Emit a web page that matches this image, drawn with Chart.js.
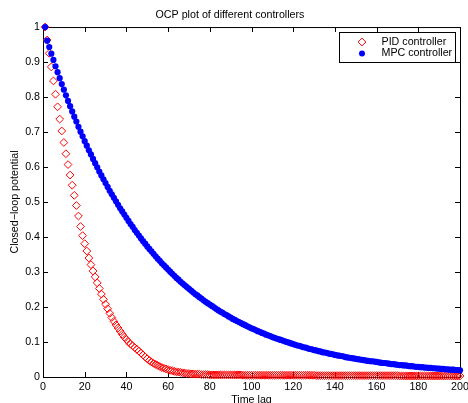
<!DOCTYPE html>
<html>
<head>
<meta charset="utf-8">
<script src="https://cdn.jsdelivr.net/npm/chart.js@4.4.1/dist/chart.umd.min.js"></script>
<style>
  html, body { margin: 0; padding: 0; background: #fff; }
  #wrap { width: 468px; height: 403px; }
</style>
</head>
<body>
<div id="wrap"><canvas id="myChart" width="468" height="403"></canvas></div>
<script>
// time lags 1..200
const lags = [];
for (let i = 1; i <= 200; i++) lags.push(i);

// PID controller
const pidValues = [
  1.000, 0.963, 0.925, 0.886, 0.846, 0.808, 0.772, 0.737, 0.703, 0.670,
  0.638, 0.607, 0.577, 0.548, 0.519, 0.490, 0.460, 0.430, 0.404, 0.381,
  0.360, 0.340, 0.321, 0.303, 0.286, 0.269, 0.253, 0.237, 0.222, 0.208,
  0.195, 0.182, 0.170, 0.159, 0.149, 0.140, 0.131, 0.122, 0.114, 0.107,
  0.100, 0.094, 0.089, 0.084, 0.079, 0.074, 0.068, 0.063, 0.057, 0.052,
  0.047, 0.043, 0.039, 0.036, 0.033, 0.030, 0.027, 0.025, 0.023, 0.021,
  0.019, 0.018, 0.016, 0.015, 0.014, 0.013, 0.012, 0.011, 0.010, 0.010,
  0.009, 0.009, 0.008, 0.008, 0.008, 0.007, 0.007, 0.007, 0.007, 0.006,
  0.006, 0.006, 0.006, 0.006, 0.006, 0.006, 0.006, 0.006, 0.006, 0.006,
  0.006, 0.006, 0.006, 0.006, 0.006, 0.005, 0.005, 0.005, 0.005, 0.005,
  0.005, 0.005, 0.005, 0.005, 0.005, 0.005, 0.005, 0.005, 0.005, 0.005,
  0.005, 0.005, 0.005, 0.005, 0.005, 0.005, 0.005, 0.005, 0.005, 0.005,
  0.005, 0.005, 0.005, 0.005, 0.005, 0.005, 0.005, 0.005, 0.005, 0.005,
  0.004, 0.004, 0.004, 0.004, 0.004, 0.004, 0.004, 0.004, 0.004, 0.004,
  0.004, 0.004, 0.004, 0.004, 0.004, 0.004, 0.004, 0.004, 0.004, 0.004,
  0.004, 0.004, 0.004, 0.004, 0.004, 0.004, 0.004, 0.004, 0.004, 0.004,
  0.004, 0.004, 0.004, 0.004, 0.004, 0.004, 0.004, 0.004, 0.004, 0.004,
  0.003, 0.003, 0.003, 0.003, 0.003, 0.003, 0.003, 0.003, 0.003, 0.003,
  0.003, 0.003, 0.003, 0.003, 0.003, 0.003, 0.003, 0.003, 0.003, 0.003,
  0.003, 0.003, 0.003, 0.003, 0.003, 0.003, 0.003, 0.003, 0.003, 0.003
];

// MPC controller
const mpcValues = [
  1.000, 0.961, 0.943, 0.924, 0.906, 0.888, 0.871, 0.854, 0.837, 0.821,
  0.805, 0.789, 0.774, 0.759, 0.744, 0.730, 0.715, 0.701, 0.688, 0.674,
  0.661, 0.648, 0.636, 0.623, 0.611, 0.599, 0.587, 0.576, 0.565, 0.554,
  0.543, 0.532, 0.522, 0.512, 0.502, 0.492, 0.482, 0.473, 0.464, 0.455,
  0.446, 0.437, 0.429, 0.420, 0.412, 0.404, 0.396, 0.388, 0.381, 0.373,
  0.366, 0.359, 0.352, 0.345, 0.338, 0.332, 0.325, 0.319, 0.313, 0.307,
  0.301, 0.295, 0.289, 0.283, 0.278, 0.272, 0.267, 0.262, 0.257, 0.252,
  0.247, 0.242, 0.237, 0.233, 0.228, 0.224, 0.219, 0.215, 0.211, 0.207,
  0.203, 0.199, 0.195, 0.191, 0.187, 0.184, 0.180, 0.177, 0.173, 0.170,
  0.166, 0.163, 0.160, 0.157, 0.154, 0.151, 0.148, 0.145, 0.142, 0.139,
  0.137, 0.134, 0.131, 0.129, 0.126, 0.124, 0.121, 0.119, 0.117, 0.114,
  0.112, 0.110, 0.108, 0.106, 0.104, 0.102, 0.100, 0.098, 0.096, 0.094,
  0.092, 0.090, 0.089, 0.087, 0.085, 0.084, 0.082, 0.080, 0.079, 0.077,
  0.076, 0.074, 0.073, 0.071, 0.070, 0.069, 0.067, 0.066, 0.065, 0.063,
  0.062, 0.061, 0.060, 0.059, 0.057, 0.056, 0.055, 0.054, 0.053, 0.052,
  0.051, 0.050, 0.049, 0.048, 0.047, 0.046, 0.045, 0.045, 0.044, 0.043,
  0.042, 0.041, 0.040, 0.040, 0.039, 0.038, 0.037, 0.037, 0.036, 0.035,
  0.034, 0.034, 0.033, 0.033, 0.032, 0.031, 0.031, 0.030, 0.029, 0.029,
  0.028, 0.028, 0.027, 0.027, 0.026, 0.026, 0.025, 0.025, 0.024, 0.024,
  0.023, 0.023, 0.022, 0.022, 0.021, 0.021, 0.021, 0.020, 0.020, 0.019
];

const seriesNames = ["PID controller", "MPC controller"];
const xTicks = [0, 20, 40, 60, 80, 100, 120, 140, 160, 180, 200];
const yTicks = [0, 0.1, 0.2, 0.3, 0.4, 0.5, 0.6, 0.7, 0.8, 0.9, 1];

const FONT = '"Liberation Sans", Arial, Helvetica, sans-serif';
const FS = 10.7;
Chart.defaults.font.family = FONT;
Chart.defaults.font.size = FS;
Chart.defaults.color = "#000";

// box round the axes with inward ticks (matlab style)
const boxTicks = {
  id: "boxTicks",
  beforeDatasetsDraw(chart) {
    const { ctx, chartArea: a, scales } = chart;
    const tl = 5;
    ctx.save();
    ctx.strokeStyle = "#000";
    ctx.lineWidth = 1;
    ctx.beginPath();
    xTicks.forEach((v) => {
      const px = Math.round(scales.x.getPixelForValue(v)) + 0.5;
      ctx.moveTo(px, a.bottom); ctx.lineTo(px, a.bottom - tl);
      ctx.moveTo(px, a.top); ctx.lineTo(px, a.top + tl);
    });
    yTicks.forEach((v) => {
      const py = Math.round(scales.y.getPixelForValue(v)) + 0.5;
      ctx.moveTo(a.left, py); ctx.lineTo(a.left + tl, py);
      ctx.moveTo(a.right, py); ctx.lineTo(a.right - tl, py);
    });
    ctx.stroke();
    ctx.strokeRect(a.left + 0.5, a.top + 0.5, a.right - a.left, a.bottom - a.top);
    ctx.restore();
  },
};

// legend box in the top right corner
const boxLegend = {
  id: "boxLegend",
  afterDraw(chart) {
    const ctx = chart.ctx;
    const L = 339.5, T = 32.5, W = 116, H = 30;
    ctx.save();
    ctx.fillStyle = "#fff";
    ctx.fillRect(L, T, W, H);
    ctx.strokeStyle = "#000";
    ctx.lineWidth = 1;
    ctx.strokeRect(L, T, W, H);
    const mx = 362;
    const rows = [42, 53.5];
    // diamond
    const r = 3.9;
    ctx.beginPath();
    ctx.moveTo(mx, rows[0] - r);
    ctx.lineTo(mx + r, rows[0]);
    ctx.lineTo(mx, rows[0] + r);
    ctx.lineTo(mx - r, rows[0]);
    ctx.closePath();
    ctx.strokeStyle = "#ff0000";
    ctx.stroke();
    // dot
    ctx.beginPath();
    ctx.arc(mx, rows[1], 3, 0, Math.PI * 2);
    ctx.fillStyle = "#0000ff";
    ctx.fill();
    ctx.fillStyle = "#000";
    ctx.font = FS + "px " + FONT;
    ctx.textBaseline = "middle";
    ctx.textAlign = "left";
    chart.data.datasets.forEach((ds, i) => ctx.fillText(ds.label, 381.5, rows[i]));
    ctx.restore();
  },
};

const data = {
  datasets: [
    {
      label: seriesNames[0],
      data: lags.map((x, i) => ({ x: x, y: pidValues[i] })),
      pointStyle: "rectRot",
      pointRadius: 3.9,
      pointBorderWidth: 1,
      pointBorderColor: "#ff0000",
      pointBackgroundColor: "rgba(0,0,0,0)",
      showLine: false,
      clip: false,
      order: 1,
    },
    {
      label: seriesNames[1],
      data: lags.map((x, i) => ({ x: x, y: mpcValues[i] })),
      pointStyle: "circle",
      pointRadius: 3.1,
      pointBorderWidth: 0,
      pointBorderColor: "#0000ff",
      pointBackgroundColor: "#0000ff",
      showLine: false,
      clip: false,
      order: 0,
    },
  ],
};

const config = {
  type: "scatter",
  data: data,
  options: {
    responsive: false,
    animation: false,
    devicePixelRatio: 1,
    layout: { padding: { left: 0, right: 8, top: 0, bottom: 0 } },
    plugins: {
      legend: { display: false },
      tooltip: { enabled: false },
      title: {
        display: true,
        text: "OCP plot of different controllers",
        font: { size: FS, weight: "normal" },
        color: "#000",
        padding: { top: 8.6, bottom: 5.6 },
      },
    },
    scales: {
      x: {
        type: "linear",
        min: 0,
        max: 200,
        grid: { display: false, drawTicks: false },
        border: { display: false },
        ticks: { stepSize: 20, padding: 3.6, maxRotation: 0, color: "#000" },
        title: { display: true, text: "Time lag", color: "#000", padding: { top: 0, bottom: -3.4 } },
        afterFit: (s) => { s.height = 26; s.paddingLeft = 0; s.paddingRight = 0; },
      },
      y: {
        type: "linear",
        min: 0,
        max: 1,
        grid: { display: false, drawTicks: false },
        border: { display: false },
        ticks: {
          stepSize: 0.1,
          padding: 3,
          color: "#000",
          callback: (v) => String(Number(v.toFixed(2))),
        },
        title: { display: true, text: "Closed\u2212loop potential", color: "#000", padding: { top: 8.4, bottom: 0 } },
        afterFit: (s) => { s.width = 43; },
      },
    },
  },
  plugins: [boxTicks, boxLegend],
};

const myChart = new Chart(document.getElementById("myChart"), config);
</script>
</body>
</html>
